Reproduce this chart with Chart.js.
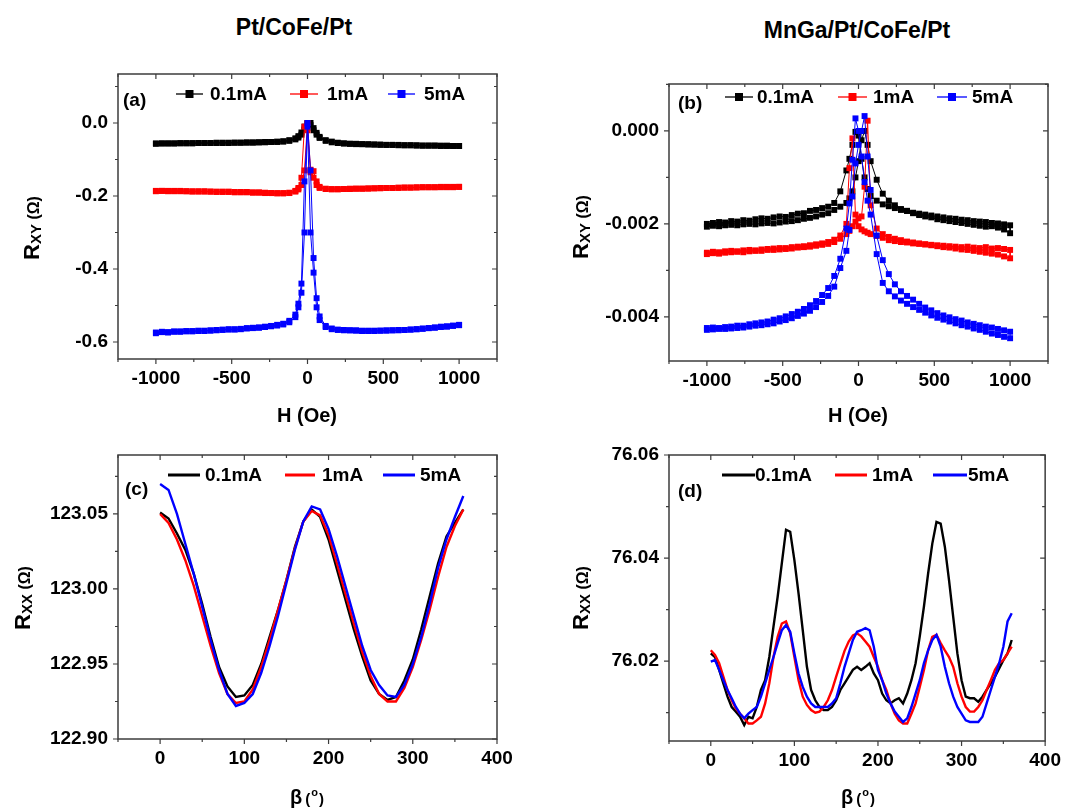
<!DOCTYPE html>
<html>
<head>
<meta charset="utf-8">
<script src="https://cdn.jsdelivr.net/npm/chart.js@4.4.1/dist/chart.umd.min.js"></script>
<style>
  html, body { margin: 0; padding: 0; background: #fff; }
  body { width: 1069px; height: 811px; position: relative; overflow: hidden;
         font-family: 'Liberation Sans', Arial, Helvetica, sans-serif; }
  .ttl { position: absolute; text-align: center; font-weight: bold; font-size: 23px; line-height: 27px; color: #000; }
  canvas { position: absolute; }
</style>
</head>
<body>
<div class="ttl" style="left:0px;width:588px;top:14px;">Pt/CoFe/Pt</div>
<div class="ttl" style="left:657px;width:400px;top:17px;">MnGa/Pt/CoFe/Pt</div>
<canvas id="ca" width="534" height="430" style="left:0px;top:0px;width:534px;height:430px"></canvas>
<canvas id="cb" width="535" height="430" style="left:534px;top:0px;width:535px;height:430px"></canvas>
<canvas id="cc" width="534" height="381" style="left:0px;top:430px;width:534px;height:381px"></canvas>
<canvas id="cd" width="535" height="381" style="left:534px;top:430px;width:535px;height:381px"></canvas>
<script>
// ---------------- DATA ----------------
const SERIES_LABELS = ['0.1mA', '1mA', '5mA'];

// field sweep grid (Oe), shared by panels (a) and (b)
const H_FIELD = [-1000,-960,-920,-880,-840,-800,-760,-720,-680,-640,-600,-560,-520,-480,-440,-400,-360,-320,-280,-240,-200,
  -160,-120,-80,-60,-40,-20,0,20,40,60,80,120,160,
  200,240,280,320,360,400,440,480,520,560,600,640,680,720,760,800,840,880,920,960,1000];

// panel (a) Pt/CoFe/Pt  R_XY (Ohm); UP = first sweep, DN = return sweep (both listed at H_FIELD)
const A_01_UP = [-0.056,-0.056,-0.056,-0.056,-0.055,-0.056,-0.055,-0.055,-0.055,-0.055,-0.055,-0.054,-0.055,-0.054,-0.054,-0.054,-0.053,-0.053,-0.053,-0.052,-0.052,
  -0.051,-0.049,-0.045,-0.040,-0.032,-0.018,-0.003,0.000,-0.014,-0.027,-0.038,-0.047,-0.051,
  -0.054,-0.056,-0.057,-0.058,-0.058,-0.059,-0.059,-0.060,-0.060,-0.060,-0.061,-0.061,-0.061,-0.062,-0.062,-0.062,-0.062,-0.063,-0.062,-0.063,-0.063];
const A_01_DN = [-0.057,-0.056,-0.056,-0.056,-0.056,-0.055,-0.056,-0.055,-0.055,-0.055,-0.054,-0.055,-0.054,-0.054,-0.054,-0.053,-0.054,-0.053,-0.052,-0.052,-0.051,
  -0.050,-0.047,-0.042,-0.036,-0.026,-0.010,0.000,-0.006,-0.020,-0.032,-0.041,-0.049,-0.053,
  -0.055,-0.056,-0.057,-0.057,-0.058,-0.058,-0.059,-0.059,-0.060,-0.060,-0.060,-0.061,-0.061,-0.061,-0.062,-0.062,-0.062,-0.062,-0.063,-0.063,-0.063];
const A_1_UP = [-0.186,-0.186,-0.187,-0.186,-0.187,-0.187,-0.187,-0.188,-0.187,-0.188,-0.188,-0.189,-0.188,-0.189,-0.190,-0.189,-0.191,-0.190,-0.192,-0.192,-0.193,
  -0.193,-0.192,-0.188,-0.182,-0.170,-0.130,0.000,-0.128,-0.132,-0.160,-0.175,-0.180,-0.181,
  -0.181,-0.181,-0.180,-0.180,-0.180,-0.179,-0.179,-0.178,-0.178,-0.178,-0.177,-0.177,-0.177,-0.176,-0.176,-0.176,-0.176,-0.176,-0.175,-0.176,-0.175];
const A_1_DN = [-0.187,-0.186,-0.186,-0.187,-0.186,-0.187,-0.188,-0.187,-0.188,-0.188,-0.189,-0.188,-0.189,-0.190,-0.189,-0.190,-0.190,-0.191,-0.191,-0.192,-0.192,
  -0.192,-0.191,-0.186,-0.178,-0.150,-0.010,-0.020,-0.135,-0.150,-0.170,-0.178,-0.181,-0.182,
  -0.182,-0.181,-0.181,-0.180,-0.180,-0.180,-0.179,-0.179,-0.178,-0.178,-0.178,-0.177,-0.177,-0.177,-0.176,-0.176,-0.176,-0.175,-0.176,-0.175,-0.175];
const A_5_UP = [-0.574,-0.572,-0.573,-0.571,-0.572,-0.570,-0.571,-0.569,-0.570,-0.568,-0.568,-0.567,-0.566,-0.565,-0.565,-0.563,-0.562,-0.561,-0.559,-0.557,-0.555,
  -0.552,-0.546,-0.532,-0.505,-0.465,-0.300,0.000,-0.130,-0.370,-0.480,-0.530,-0.556,-0.563,
  -0.566,-0.567,-0.568,-0.568,-0.569,-0.569,-0.569,-0.569,-0.568,-0.568,-0.567,-0.567,-0.566,-0.565,-0.563,-0.562,-0.560,-0.558,-0.557,-0.555,-0.553];
const A_5_DN = [-0.576,-0.573,-0.574,-0.572,-0.571,-0.571,-0.570,-0.570,-0.569,-0.569,-0.567,-0.566,-0.565,-0.566,-0.564,-0.562,-0.561,-0.560,-0.558,-0.556,-0.553,
  -0.550,-0.542,-0.525,-0.495,-0.440,-0.160,-0.010,-0.300,-0.410,-0.505,-0.540,-0.559,-0.565,
  -0.567,-0.568,-0.568,-0.569,-0.570,-0.570,-0.570,-0.569,-0.569,-0.568,-0.568,-0.567,-0.566,-0.565,-0.564,-0.562,-0.561,-0.559,-0.558,-0.556,-0.554];

// panel (b) MnGa/Pt/CoFe/Pt  R_XY (Ohm)
const B_01_UP = [-0.00200,-0.00198,-0.00196,-0.00197,-0.00194,-0.00195,-0.00192,-0.00193,-0.00190,-0.00188,-0.00189,-0.00186,-0.00184,-0.00185,-0.00181,-0.00178,-0.00177,-0.00172,-0.00170,-0.00166,-0.00163,
  -0.00155,-0.00130,-0.00085,-0.00060,-0.00030,-0.00002,-0.00010,-0.00060,-0.00100,-0.00125,-0.00140,-0.00150,-0.00158,
  -0.00162,-0.00166,-0.00170,-0.00172,-0.00176,-0.00178,-0.00180,-0.00182,-0.00184,-0.00186,-0.00188,-0.00189,-0.00191,-0.00192,-0.00194,-0.00195,-0.00196,-0.00198,-0.00199,-0.00201,-0.00203];
const B_01_DN = [-0.00206,-0.00204,-0.00205,-0.00203,-0.00202,-0.00203,-0.00201,-0.00200,-0.00201,-0.00199,-0.00198,-0.00199,-0.00197,-0.00195,-0.00194,-0.00192,-0.00189,-0.00187,-0.00184,-0.00180,-0.00177,
  -0.00170,-0.00163,-0.00155,-0.00145,-0.00130,-0.00100,-0.00065,-0.00020,0.00000,-0.00030,-0.00065,-0.00105,-0.00135,
  -0.00150,-0.00160,-0.00168,-0.00172,-0.00177,-0.00181,-0.00184,-0.00186,-0.00190,-0.00192,-0.00194,-0.00196,-0.00198,-0.00200,-0.00202,-0.00204,-0.00206,-0.00205,-0.00208,-0.00212,-0.00220];
const B_1_UP = [-0.00262,-0.00260,-0.00261,-0.00259,-0.00258,-0.00259,-0.00257,-0.00256,-0.00257,-0.00255,-0.00254,-0.00253,-0.00252,-0.00252,-0.00250,-0.00249,-0.00248,-0.00246,-0.00244,-0.00242,-0.00239,
  -0.00234,-0.00225,-0.00200,-0.00080,-0.00016,-0.00180,-0.00205,-0.00212,-0.00216,-0.00219,-0.00222,-0.00226,-0.00230,
  -0.00235,-0.00237,-0.00239,-0.00240,-0.00242,-0.00243,-0.00244,-0.00245,-0.00246,-0.00247,-0.00248,-0.00249,-0.00250,-0.00249,-0.00251,-0.00252,-0.00250,-0.00253,-0.00252,-0.00254,-0.00256];
const B_1_DN = [-0.00265,-0.00263,-0.00264,-0.00262,-0.00261,-0.00260,-0.00261,-0.00259,-0.00258,-0.00258,-0.00256,-0.00256,-0.00255,-0.00254,-0.00253,-0.00251,-0.00250,-0.00249,-0.00247,-0.00245,-0.00243,
  -0.00239,-0.00232,-0.00222,-0.00215,-0.00205,-0.00195,-0.00188,-0.00184,-0.00120,0.00022,-0.00160,-0.00210,-0.00222,
  -0.00228,-0.00232,-0.00235,-0.00238,-0.00240,-0.00242,-0.00244,-0.00246,-0.00248,-0.00250,-0.00251,-0.00253,-0.00255,-0.00256,-0.00258,-0.00260,-0.00262,-0.00264,-0.00266,-0.00270,-0.00274];
const B_5_UP = [-0.00424,-0.00423,-0.00424,-0.00422,-0.00421,-0.00419,-0.00419,-0.00416,-0.00414,-0.00412,-0.00410,-0.00406,-0.00403,-0.00399,-0.00394,-0.00389,-0.00383,-0.00375,-0.00366,-0.00353,-0.00338,
  -0.00312,-0.00275,-0.00210,-0.00156,-0.00062,0.00027,0.00000,-0.00055,-0.00110,-0.00150,-0.00180,-0.00265,-0.00327,
  -0.00345,-0.00356,-0.00365,-0.00372,-0.00379,-0.00385,-0.00391,-0.00397,-0.00402,-0.00406,-0.00410,-0.00414,-0.00418,-0.00421,-0.00425,-0.00428,-0.00432,-0.00436,-0.00439,-0.00443,-0.00446];
const B_5_DN = [-0.00428,-0.00427,-0.00426,-0.00426,-0.00425,-0.00424,-0.00423,-0.00421,-0.00419,-0.00418,-0.00416,-0.00414,-0.00410,-0.00407,-0.00403,-0.00398,-0.00393,-0.00387,-0.00379,-0.00368,-0.00355,
  -0.00335,-0.00295,-0.00258,-0.00213,-0.00141,-0.00070,-0.00030,0.00000,0.00032,-0.00055,-0.00127,-0.00225,-0.00278,
  -0.00308,-0.00330,-0.00345,-0.00355,-0.00363,-0.00372,-0.00380,-0.00386,-0.00392,-0.00397,-0.00401,-0.00405,-0.00408,-0.00412,-0.00415,-0.00418,-0.00421,-0.00423,-0.00426,-0.00429,-0.00432];

// panel (c) Pt/CoFe/Pt  R_XX (Ohm) vs beta (deg)
const C_BETA = [0,10,20,30,40,50,60,70,80,90,100,110,120,130,140,150,160,170,180,190,200,210,220,230,240,250,260,270,280,290,300,310,320,330,340,350,360];
const C_01 = [123.051,123.047,123.037,123.026,123.010,122.990,122.968,122.948,122.935,122.928,122.929,122.936,122.950,122.968,122.986,123.006,123.028,123.045,123.053,123.048,123.033,123.013,122.993,122.973,122.955,122.939,122.930,122.926,122.928,122.939,122.953,122.973,122.995,123.017,123.035,123.044,123.053];
const C_1  = [123.050,123.044,123.033,123.019,123.002,122.982,122.962,122.944,122.930,122.924,122.925,122.933,122.948,122.966,122.986,123.006,123.027,123.045,123.052,123.049,123.036,123.017,122.997,122.977,122.958,122.942,122.930,122.925,122.925,122.934,122.948,122.966,122.986,123.008,123.028,123.042,123.053];
const C_5  = [123.070,123.066,123.050,123.030,123.010,122.988,122.966,122.946,122.930,122.922,122.924,122.930,122.944,122.962,122.982,123.004,123.026,123.045,123.055,123.053,123.040,123.022,123.002,122.982,122.962,122.946,122.936,122.929,122.928,122.936,122.950,122.968,122.990,123.014,123.033,123.048,123.062];

// panel (d) MnGa/Pt/CoFe/Pt  R_XX (Ohm) vs beta (deg)
const D_BETA = [0,5,10,15,20,25,30,35,40,45,50,55,60,65,70,75,80,85,90,95,100,105,110,115,120,125,130,135,140,145,150,155,160,165,170,175,180,185,190,195,200,205,210,215,220,225,230,235,240,245,250,255,260,265,270,275,280,285,290,295,300,305,310,315,320,325,330,335,340,345,350,355,360];
const D_01 = [76.0215,76.0208,76.0183,76.0157,76.0131,76.0111,76.0102,76.0092,76.0076,76.0092,
  76.0089,76.0111,76.0144,76.0163,76.0208,76.0267,76.0325,76.0390,76.0455,76.0451,
  76.0396,76.0331,76.0260,76.0189,76.0144,76.0124,76.0111,76.0105,76.0105,76.0111,
  76.0124,76.0144,76.0157,76.0170,76.0183,76.0189,76.0183,76.0189,76.0196,76.0176,
  76.0163,76.0137,76.0124,76.0118,76.0124,76.0128,76.0118,76.0137,76.0163,76.0196,
  76.0248,76.0306,76.0370,76.0428,76.0470,76.0467,76.0422,76.0357,76.0286,76.0215,
  76.0163,76.0131,76.0128,76.0128,76.0121,76.0131,76.0144,76.0157,76.0170,76.0186,
  76.0202,76.0215,76.0241];
const D_1 = [76.0221,76.0212,76.0196,76.0170,76.0144,76.0124,76.0108,76.0098,76.0089,76.0079,
  76.0079,76.0085,76.0092,76.0118,76.0157,76.0208,76.0247,76.0273,76.0277,76.0254,
  76.0208,76.0163,76.0131,76.0115,76.0105,76.0100,76.0102,76.0111,76.0124,76.0144,
  76.0170,76.0195,76.0220,76.0238,76.0250,76.0254,76.0248,76.0238,76.0228,76.0208,
  76.0189,76.0163,76.0144,76.0118,76.0098,76.0085,76.0079,76.0079,76.0098,76.0118,
  76.0150,76.0183,76.0221,76.0247,76.0251,76.0235,76.0221,76.0208,76.0189,76.0157,
  76.0131,76.0111,76.0102,76.0102,76.0111,76.0124,76.0144,76.0163,76.0183,76.0196,
  76.0202,76.0215,76.0228];
const D_5 = [76.0199,76.0202,76.0183,76.0163,76.0144,76.0128,76.0111,76.0098,76.0089,76.0098,
  76.0105,76.0111,76.0131,76.0157,76.0183,76.0208,76.0235,76.0260,76.0270,76.0257,
  76.0215,76.0176,76.0150,76.0131,76.0118,76.0111,76.0111,76.0111,76.0111,76.0118,
  76.0128,76.0157,76.0189,76.0215,76.0241,76.0257,76.0260,76.0264,76.0260,76.0228,
  76.0183,76.0163,76.0137,76.0118,76.0102,76.0092,76.0082,76.0089,76.0111,76.0137,
  76.0163,76.0196,76.0221,76.0241,76.0251,76.0228,76.0189,76.0157,76.0131,76.0111,
  76.0098,76.0085,76.0082,76.0082,76.0082,76.0092,76.0118,76.0144,76.0170,76.0196,
  76.0228,76.0277,76.0293];

// tick values and labels
const H_TICKS = [-1000,-500,0,500,1000];
const H_TICK_LABELS = ['-1000','-500','0','500','1000'];
const H_MINOR = [-1250,-750,-250,250,750,1250];
const BETA_TICKS = [0,100,200,300,400];
const BETA_TICK_LABELS = ['0','100','200','300','400'];
const BETA_MINOR = [-50,50,150,250,350];
const A_YTICKS = [0.0,-0.2,-0.4,-0.6];
const A_YTICK_LABELS = ['0.0','-0.2','-0.4','-0.6'];
const A_YMINOR = [0.1,-0.1,-0.3,-0.5];
const B_YTICKS = [0.000,-0.002,-0.004];
const B_YTICK_LABELS = ['0.000','-0.002','-0.004'];
const B_YMINOR = [0.001,-0.001,-0.003];
const C_YTICKS = [122.90,122.95,123.00,123.05];
const C_YTICK_LABELS = ['122.90','122.95','123.00','123.05'];
const C_YMINOR = [122.925,122.975,123.025,123.075];
const D_YTICKS = [76.02,76.04,76.06];
const D_YTICK_LABELS = ['76.02','76.04','76.06'];
const D_YMINOR = [76.01,76.03,76.05];

// ---------------- STYLE / LAYOUT ----------------
const FONT = "'Liberation Sans', Arial, Helvetica, sans-serif";
const COLORS = ['#000000', '#ff0000', '#0000ff'];
const AXIS_COLOR = '#3c3c3c';

function drawSegs(ctx, segs, cx, cy, base, rotate) {
  ctx.save();
  ctx.translate(cx, cy);
  if (rotate) ctx.rotate(-Math.PI / 2);
  let tot = 0;
  segs.forEach(g => { ctx.font = 'bold ' + g.s + 'px ' + FONT; g.w = ctx.measureText(g.t).width; tot += g.w + (g.gap || 0); });
  let x = -tot / 2;
  ctx.fillStyle = '#000';
  ctx.textBaseline = 'alphabetic';
  ctx.textAlign = 'left';
  segs.forEach(g => {
    ctx.font = 'bold ' + g.s + 'px ' + FONT;
    x += (g.gap || 0);
    ctx.fillText(g.t, x, base + (g.dy || 0));
    x += g.w;
  });
  ctx.restore();
}

const DECO = {
  ca: { marker: true, legendY: 20, samples: [[58,85],[172,200],[270,297]], texts: [92,209,306],
        label: '(a)', labelX: 5, labelY: 27, xt: {x:307, y:415, kind:'H'}, yt: {x:31, y:228, sub:'XY'},
        xMajor: H_TICKS, xMinor: H_MINOR, yMajor: A_YTICKS, yMinor: A_YMINOR },
  cb: { marker: true, legendY: 13, samples: [[56,84],[169,198],[268,298]], texts: [88,204,303],
        label: '(b)', labelX: 9, labelY: 20, xt: {x:324, y:415, kind:'H'}, yt: {x:46, y:227, sub:'XY'},
        xMajor: H_TICKS, xMinor: H_MINOR, yMajor: B_YTICKS, yMinor: B_YMINOR },
  cc: { marker: false, legendY: 20, samples: [[50,82],[167,197],[265,297]], texts: [87,204,302],
        label: '(c)', labelX: 7, labelY: 35, xt: {x:307, y:367, kind:'B'}, yt: {x:22, y:168, sub:'XX'},
        xMajor: BETA_TICKS, xMinor: BETA_MINOR, yMajor: C_YTICKS, yMinor: C_YMINOR },
  cd: { marker: false, legendY: 20, samples: [[53,86],[166,198],[264,298]], texts: [86,203,299],
        label: '(d)', labelX: 9, labelY: 37, xt: {x:324, y:367, kind:'B'}, yt: {x:46, y:168, sub:'XX'},
        xMajor: BETA_TICKS, xMinor: BETA_MINOR, yMajor: D_YTICKS, yMinor: D_YMINOR }
};

const decoPlugin = {
  id: 'deco',
  afterDraw(chart) {
    const d = DECO[chart.canvas.id];
    if (!d) return;
    const ctx = chart.ctx, a = chart.chartArea, xs = chart.scales.x, ys = chart.scales.y;
    ctx.save();
    // frame
    ctx.strokeStyle = AXIS_COLOR;
    ctx.lineWidth = 1.5;
    ctx.strokeRect(a.left, a.top, a.right - a.left, a.bottom - a.top);
    // ticks
    ctx.beginPath();
    const tick = (list, len, axis) => list.forEach(v => {
      if (axis === 'x') {
        const p = xs.getPixelForValue(v);
        ctx.moveTo(p, a.bottom); ctx.lineTo(p, a.bottom + len);
        ctx.moveTo(p, a.top); ctx.lineTo(p, a.top + len);
      } else {
        const p = ys.getPixelForValue(v);
        ctx.moveTo(a.left - len, p); ctx.lineTo(a.left, p);
        ctx.moveTo(a.right, p); ctx.lineTo(a.right - len, p);
      }
    });
    tick(d.xMajor, 5, 'x'); tick(d.xMinor, 3, 'x');
    tick(d.yMajor, 5, 'y'); tick(d.yMinor, 3, 'y');
    ctx.lineWidth = 1.2;
    ctx.stroke();
    // in-plot legend
    chart.data.datasets.forEach((ds, i) => {
      const y = a.top + d.legendY;
      const s0 = a.left + d.samples[i][0], s1 = a.left + d.samples[i][1];
      ctx.strokeStyle = ds.borderColor;
      ctx.lineWidth = d.marker ? 1.3 : 3;
      ctx.beginPath(); ctx.moveTo(s0, y); ctx.lineTo(s1, y); ctx.stroke();
      if (d.marker) {
        ctx.fillStyle = ds.borderColor;
        const m = (s0 + s1) / 2;
        ctx.fillRect(m - 4, y - 4, 8, 8);
      }
      ctx.fillStyle = '#000';
      ctx.font = 'bold 19px ' + FONT;
      ctx.textBaseline = 'middle';
      ctx.textAlign = 'left';
      ctx.fillText(ds.label, a.left + d.texts[i], y + 1);
    });
    // panel label
    ctx.fillStyle = '#000';
    ctx.font = 'bold 19px ' + FONT;
    ctx.textBaseline = 'middle';
    ctx.textAlign = 'left';
    ctx.fillText(d.label, a.left + d.labelX, a.top + d.labelY);
    ctx.restore();
    // axis titles
    if (d.xt.kind === 'H') {
      drawSegs(ctx, [{t:'H (Oe)', s:20}], d.xt.x, d.xt.y, 7, false);
    } else {
      drawSegs(ctx, [{t:'\u03B2', s:20}, {t:'(', s:15, gap:3}, {t:'o', s:11, dy:-8, gap:1}, {t:')', s:15, gap:1}], d.xt.x, d.xt.y, 7, false);
    }
    drawSegs(ctx, [{t:'R', s:22}, {t:d.yt.sub, s:15, dy:2}, {t:' (\u03A9)', s:16}], d.yt.x, d.yt.y, 8, true);
  }
};

function sweep(H, up, dn) {
  const pts = H.map((h, i) => ({x: h, y: up[i]}));
  for (let i = H.length - 1; i >= 0; i--) pts.push({x: H[i], y: dn[i]});
  return pts;
}
function curve(X, Y) { return X.map((x, i) => ({x: x, y: Y[i]})); }

function makeChart(id, cfg) {
  const tickFont = {family: FONT, size: 19, weight: 'bold'};
  return new Chart(document.getElementById(id), {
    type: 'scatter',
    data: {
      datasets: cfg.series.map((pts, i) => ({
        label: SERIES_LABELS[i],
        data: pts,
        showLine: true,
        borderColor: COLORS[i],
        backgroundColor: COLORS[i],
        borderWidth: cfg.marker ? 1 : 2.4,
        pointStyle: 'rect',
        pointRadius: cfg.marker ? 4.2 : 0,
        pointBorderWidth: 0,
        pointHoverRadius: 0,
        tension: 0,
        order: 3 - i
      }))
    },
    options: {
      responsive: false,
      animation: false,
      events: [],
      layout: {padding: {top: cfg.top, right: cfg.right, left: 0, bottom: 0}},
      plugins: {legend: {display: false}, tooltip: {enabled: false}, title: {display: false}},
      scales: {
        x: {
          type: 'linear', position: 'bottom', min: cfg.xmin, max: cfg.xmax,
          grid: {display: false, drawTicks: false}, border: {display: false},
          ticks: {font: tickFont, color: '#000', padding: 8, maxRotation: 0,
                  callback: (v, i) => cfg.xlabels[i]},
          afterBuildTicks: s => { s.ticks = cfg.xticks.map(v => ({value: v})); },
          afterFit: s => { s.height = cfg.xh; }
        },
        y: {
          type: 'linear', position: 'left', min: cfg.ymin, max: cfg.ymax,
          grid: {display: false, drawTicks: false}, border: {display: false},
          ticks: {font: tickFont, color: '#000', padding: 10,
                  callback: (v, i) => cfg.ylabels[i]},
          afterBuildTicks: s => { s.ticks = cfg.yticks.map(v => ({value: v})); },
          afterFit: s => { s.width = cfg.yw; }
        }
      }
    },
    plugins: [decoPlugin]
  });
}

makeChart('ca', {
  marker: true, top: 74, right: 37, yw: 118, xh: 71,
  xmin: -1250, xmax: 1250, ymin: -0.6466, ymax: 0.1342,
  xticks: H_TICKS, xlabels: H_TICK_LABELS, yticks: A_YTICKS, ylabels: A_YTICK_LABELS,
  series: [sweep(H_FIELD, A_01_UP, A_01_DN), sweep(H_FIELD, A_1_UP, A_1_DN), sweep(H_FIELD, A_5_UP, A_5_DN)]
});
makeChart('cb', {
  marker: true, top: 84, right: 21, yw: 135, xh: 69,
  xmin: -1250, xmax: 1250, ymin: -0.00495, ymax: 0.00101,
  xticks: H_TICKS, xlabels: H_TICK_LABELS, yticks: B_YTICKS, ylabels: B_YTICK_LABELS,
  series: [sweep(H_FIELD, B_01_UP, B_01_DN), sweep(H_FIELD, B_1_UP, B_1_DN), sweep(H_FIELD, B_5_UP, B_5_DN)]
});
makeChart('cc', {
  marker: false, top: 25, right: 37, yw: 118, xh: 72,
  xmin: -50, xmax: 400, ymin: 122.90, ymax: 123.0893,
  xticks: BETA_TICKS, xlabels: BETA_TICK_LABELS, yticks: C_YTICKS, ylabels: C_YTICK_LABELS,
  series: [curve(C_BETA, C_01), curve(C_BETA, C_1), curve(C_BETA, C_5)]
});
makeChart('cd', {
  marker: false, top: 25, right: 21, yw: 135, xh: 70,
  xmin: -50, xmax: 400, ymin: 76.0045, ymax: 76.06,
  xticks: BETA_TICKS, xlabels: BETA_TICK_LABELS, yticks: D_YTICKS, ylabels: D_YTICK_LABELS,
  series: [curve(D_BETA, D_01), curve(D_BETA, D_1), curve(D_BETA, D_5)]
});
</script>
</body>
</html>
